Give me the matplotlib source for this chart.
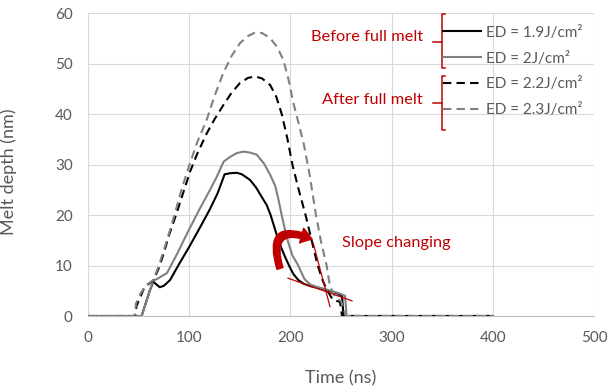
import numpy as np
import matplotlib
matplotlib.use('Agg')
import matplotlib.pyplot as plt
from matplotlib.patches import FancyArrowPatch
from matplotlib.lines import Line2D

plt.rcParams['font.family'] = ['Lato', 'DejaVu Sans']

# ED = 1.9 J/cm2 (before full melt)
t_19 = [0, 53, 57, 61, 64.5, 68, 71, 75, 81, 90, 100, 110, 120, 128, 135, 140, 147, 152, 160, 166,
        172, 176.6, 180.5, 186, 191, 195, 199.6, 203, 208, 213, 220, 229, 238, 246, 251, 252.5, 400]
d_19 = [0, 0, 2.5, 5, 6.8, 6.2, 5.7, 6, 7.1, 10.3, 13.7, 17.3, 21, 24.3, 28.1, 28.3, 28.4, 28.1, 27, 25.5,
        23.5, 22, 20, 16.4, 13.5, 11.6, 9.6, 8.3, 7.1, 6.4, 5.9, 5.5, 5.0, 4.5, 4.0, 0, 0]

# ED = 2 J/cm2 (before full melt)
t_20 = [0, 53, 57, 61, 64.5, 68, 72, 78, 88, 97.5, 110, 120, 127, 134, 140, 147, 153.5, 160, 166.7, 174,
        180, 185, 188, 191.4, 195, 198, 202, 207.8, 210, 214, 220, 226, 233, 240, 248, 254, 255.5, 400]
d_20 = [0, 0, 2.5, 5, 7.1, 7.3, 7.8, 8.5, 12.3, 16.2, 21.1, 24.8, 27.5, 30.6, 31.5, 32.3, 32.6, 32.4, 32, 30.2,
        28, 25.8, 23.3, 20, 16.8, 14.5, 12, 10, 9, 7.3, 6.2, 5.8, 5.4, 5, 4.5, 4, 0, 0]

# ED = 2.2 J/cm2 (after full melt)
t_22 = [0, 46.5, 48, 56, 64.5, 70, 75, 80, 87.6, 95, 100.8, 108, 117.3, 125, 133.7, 142, 150.2, 158, 165,
        172, 180, 186, 191.5, 197, 202, 208, 215, 221, 227, 232, 236, 242, 249, 251, 400]
d_22 = [0, 0, 2, 5.8, 7, 9.5, 12.5, 16, 20.4, 25, 28.6, 32.2, 36.2, 39, 41.8, 44.3, 46.2, 47.2, 47.5,
        47.1, 45.8, 43.5, 40, 35.2, 30, 25.2, 20, 15, 10, 7, 5.2, 3.2, 2.8, 0, 0]

# ED = 2.3 J/cm2 (after full melt)
t_23 = [0, 46, 47.5, 52, 58, 64.5, 70, 78, 86, 93, 100.8, 108, 117.3, 125, 133.7, 142, 150.2, 158, 165,
        172, 180, 187, 193, 198, 203, 208, 213, 219, 225.3, 230, 235.8, 239, 245, 250, 255, 400]
d_23 = [0, 0, 2.5, 4.5, 6.2, 7.1, 10, 15, 20.4, 25.5, 30.3, 34.5, 38.9, 43.6, 48.2, 51.6, 54.1, 55.5, 56.2,
        56.1, 55.1, 53.3, 50.8, 47, 42.2, 38.3, 34.3, 28, 20, 15, 10, 6, 3.5, 3, 0, 0]

labels = ['ED = 1.9J/cm²', 'ED = 2J/cm²', 'ED = 2.2J/cm²', 'ED = 2.3J/cm²']
colors = ['black', '#808080', 'black', '#808080']
styles = ['-', '-', (0, (4, 2.5)), (0, (4, 2.5))]

red = '#C00000'
gray_txt = '#595959'

fig = plt.figure(figsize=(6.09, 3.87), dpi=100)
ax = fig.add_axes([88/609, 1-316/387, 506/609, 302.6/387])

handles = []
for t, d, c, s, lab in zip([t_19, t_20, t_22, t_23], [d_19, d_20, d_22, d_23], colors, styles, labels):
    h, = ax.plot(t, d, color=c, linestyle=s, lw=1.5, label=lab, zorder=3)
    handles.append(h)

ax.set_xlim(0, 500)
ax.set_ylim(0, 60)
ax.set_xticks(range(0, 501, 100))
ax.set_yticks(range(0, 61, 10))
ax.grid(True, color='#d9d9d9', lw=0.8, zorder=0)
ax.set_axisbelow(True)
for sp in ['top', 'right', 'left']:
    ax.spines[sp].set_visible(False)
ax.spines['bottom'].set_color('#bfbfbf')
ax.spines['bottom'].set_linewidth(0.8)
ax.tick_params(length=0, labelsize=11, colors=gray_txt)
ax.tick_params(axis='y', pad=11)
ax.tick_params(axis='x', pad=11)

ax.set_xlabel('Time (ns)', fontsize=13, color=gray_txt)
ax.set_ylabel('Melt depth (nm)', fontsize=13, color=gray_txt)
ax.xaxis.set_label_coords(0.5, -0.178)
ax.yaxis.set_label_coords(-0.14, 0.476)

leg = fig.legend(handles=handles, loc='upper left', bbox_to_anchor=(443/609, 1-25.6/387),
                 frameon=False, fontsize=11, handlelength=2.5, handletextpad=0.33,
                 labelspacing=0.78, borderpad=0, borderaxespad=0)
for txt in leg.get_texts():
    txt.set_color(gray_txt)

# red brackets and group labels
def px(x, y):
    return x/609, 1-y/387

def bracket(y0, y1, ymid):
    xs = [444.5, 441.7, 441.7, 444.5]
    ys = [y0, y0, y1, y1]
    fig.add_artist(Line2D([x/609 for x in xs], [1-y/387 for y in ys], color=red, lw=1.1))
    fig.add_artist(Line2D([432.7/609, 441.7/609], [1-ymid/387, 1-ymid/387], color=red, lw=1.1))

bracket(14, 68.3, 41.7)
bracket(76, 130, 103.3)
fig.text(*px(367, 37.3), 'Before full melt', color=red, fontsize=11.8, ha='center', va='center')
fig.text(*px(372, 100), 'After full melt', color=red, fontsize=11.8, ha='center', va='center')
fig.text(*px(341.7, 242.7), 'Slope changing', color=red, fontsize=11.8, ha='left', va='center')

# slope lines
ax.plot([197.6, 260.9], [7.5, 3.0], color=red, lw=0.9, zorder=4)
ax.plot([222.6, 239.1], [14.4, 1.85], color=red, lw=0.9, zorder=4)

arrow = FancyArrowPatch((190.5, 8.9), (224, 15.0), connectionstyle='arc3,rad=-1.1',
                        arrowstyle='simple,head_length=0.8,head_width=1.1,tail_width=0.45',
                        mutation_scale=10, color=red, zorder=5)
ax.add_patch(arrow)

fig.savefig('out.png', dpi=100)
